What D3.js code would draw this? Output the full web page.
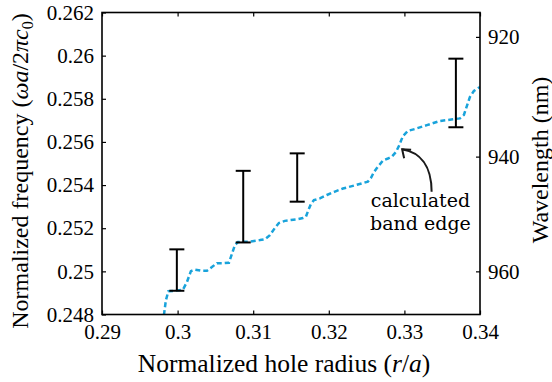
<!DOCTYPE html>
<html>
<head>
<meta charset="utf-8">
<script src="https://cdn.jsdelivr.net/npm/d3@7"></script>
<style>
  body { margin: 0; background: #fff; }
  text { font-family: "Liberation Serif", serif; fill: #000; }
</style>
</head>
<body>
<svg id="chart" width="552" height="382"></svg>
<script>
// calculated band edge (dashed curve)
const radius = [0.29819, 0.29845, 0.29878, 0.29964, 0.30070, 0.30123, 0.30176, 0.30229, 0.30308, 0.30388,
  0.30454, 0.30520, 0.30612, 0.30679, 0.30718, 0.30758, 0.30798, 0.30956, 0.31089, 0.31155,
  0.31221, 0.31287, 0.31340, 0.31419, 0.31499, 0.31578, 0.31657, 0.31697, 0.31730, 0.31763,
  0.31803, 0.31882, 0.31975, 0.32081, 0.32187, 0.32306, 0.32438, 0.32517, 0.32557, 0.32597,
  0.32636, 0.32716, 0.32782, 0.32835, 0.32888, 0.32927, 0.32980, 0.33046, 0.33139, 0.33298,
  0.33470, 0.33642, 0.33734, 0.33787, 0.33827, 0.33866, 0.33919, 0.34];
const freq = [0.24797, 0.24866, 0.24908, 0.24910, 0.24915, 0.24950, 0.25001, 0.25008, 0.25003, 0.25003,
  0.25020, 0.25038, 0.25038, 0.25040, 0.25080, 0.25122, 0.25136, 0.25138, 0.25145, 0.25149,
  0.25168, 0.25201, 0.25224, 0.25234, 0.25238, 0.25241, 0.25247, 0.25253, 0.25284, 0.25312,
  0.25330, 0.25338, 0.25354, 0.25370, 0.25384, 0.25395, 0.25408, 0.25416, 0.25433, 0.25460,
  0.25479, 0.25514, 0.25523, 0.25532, 0.25553, 0.25581, 0.25627, 0.25651, 0.25660, 0.25678,
  0.25697, 0.25705, 0.25709, 0.25725, 0.25767, 0.25808, 0.25836, 0.25855];

// measured band edges (error bars)
const barRadius = [0.2999, 0.30868, 0.31582, 0.33681];
const barLow = [0.24910, 0.25134, 0.25323, 0.25668];
const barHigh = [0.25102, 0.25466, 0.25547, 0.25986];

const xTicks = [0.29, 0.30, 0.31, 0.32, 0.33, 0.34];
const yTicks = [0.248, 0.250, 0.252, 0.254, 0.256, 0.258, 0.260, 0.262];
const wavelengthTicks = [920, 940, 960];
const latticeConstant = 240; // nm, wavelength = a / f

const svg = d3.select("#chart");
const plotLeft = 102, plotRight = 480, plotTop = 12.5, plotBottom = 314.5;

const x = d3.scaleLinear().domain([0.29, 0.34]).range([plotLeft, plotRight]);
const y = d3.scaleLinear().domain([0.248, 0.262]).range([plotBottom, plotTop]);
const fmt = d => String(+d.toFixed(3));

svg.append("defs").append("clipPath").attr("id", "plot")
  .append("rect").attr("x", plotLeft).attr("y", plotTop)
  .attr("width", plotRight - plotLeft).attr("height", plotBottom - plotTop);

// curve
const pts = radius.map((r, i) => [r, freq[i]]);
svg.append("path")
  .datum(pts)
  .attr("clip-path", "url(#plot)")
  .attr("fill", "none")
  .attr("stroke", "#19a3db")
  .attr("stroke-width", 2.5)
  .attr("stroke-dasharray", "5,3")
  .attr("d", d3.line().x(d => x(d[0])).y(d => y(d[1])));

// error bars
const cap = 7.5;
const bars = svg.append("g").attr("stroke", "#000").attr("stroke-width", 2);
barRadius.forEach((r, i) => {
  const cx = x(r);
  bars.append("line").attr("x1", cx).attr("x2", cx).attr("y1", y(barLow[i])).attr("y2", y(barHigh[i]));
  bars.append("line").attr("x1", cx - cap).attr("x2", cx + cap).attr("y1", y(barLow[i])).attr("y2", y(barLow[i]));
  bars.append("line").attr("x1", cx - cap).attr("x2", cx + cap).attr("y1", y(barHigh[i])).attr("y2", y(barHigh[i]));
});

// axes (ticks point inward)
function styleAxis(g) {
  g.select(".domain").remove();
  g.selectAll(".tick line").attr("stroke", "#000").attr("stroke-width", 1.2);
  g.selectAll(".tick text").style("font-family", "Liberation Serif").style("font-size", "21px").attr("fill", "#000");
}
svg.append("g").attr("transform", `translate(0,${plotBottom})`)
  .call(d3.axisBottom(x).tickValues(xTicks).tickFormat(fmt).tickSizeInner(-4).tickSizeOuter(0).tickPadding(10))
  .call(styleAxis);
svg.append("g").attr("transform", `translate(0,${plotTop})`)
  .call(d3.axisTop(x).tickValues(xTicks).tickFormat("").tickSizeInner(-4).tickSizeOuter(0))
  .call(styleAxis);
svg.append("g").attr("transform", `translate(${plotLeft},0)`)
  .call(d3.axisLeft(y).tickValues(yTicks).tickFormat(fmt).tickSizeInner(-4).tickSizeOuter(0).tickPadding(8))
  .call(styleAxis);
svg.append("g").attr("transform", `translate(${plotRight},0)`)
  .call(d3.axisRight(y).tickValues(wavelengthTicks.map(w => latticeConstant / w))
    .tickFormat((d, i) => wavelengthTicks[i]).tickSizeInner(-4).tickSizeOuter(0).tickPadding(8))
  .call(styleAxis);

svg.append("rect")
  .attr("x", plotLeft).attr("y", plotTop)
  .attr("width", plotRight - plotLeft).attr("height", plotBottom - plotTop)
  .attr("fill", "none").attr("stroke", "#000").attr("stroke-width", 1.6);

// axis titles
svg.append("text")
  .attr("x", 284).attr("y", 372)
  .attr("text-anchor", "middle")
  .style("font-size", "25.5px")
  .html('Normalized hole radius (<tspan font-style="italic">r</tspan>/<tspan font-style="italic">a</tspan>)');

svg.append("text")
  .attr("transform", "translate(28,171) rotate(-90)")
  .attr("text-anchor", "middle")
  .style("font-size", "24px")
  .html('Normalized frequency (<tspan font-style="italic">ωa</tspan>/2<tspan font-style="italic">πc</tspan><tspan font-size="16px" dy="5">0</tspan><tspan dy="-5">)</tspan>');

svg.append("text")
  .attr("transform", "translate(548,160) rotate(-90)")
  .attr("text-anchor", "middle")
  .style("font-size", "24px")
  .text("Wavelength (nm)");

// annotation
const tip = [x(0.3297), y(0.25566)];
const tail = [x(0.3336), y(0.25369)];
const ann = svg.append("g").attr("stroke", "#1a1a1a").attr("stroke-width", 2).attr("fill", "none");
ann.append("path")
  .attr("d", `M${tail[0]},${tail[1]} C${tail[0]},${tail[1] - 26} ${tip[0] + 18},${tip[1] + 3} ${tip[0]},${tip[1]}`);
ann.append("path")
  .attr("d", `M${tip[0] + 9},${tip[1] + 0.5} L${tip[0]},${tip[1]} L${tip[0] + 2},${tip[1] + 9}`);

const label = svg.append("text")
  .attr("x", x(0.33212)).attr("y", y(0.25297))
  .attr("text-anchor", "middle")
  .style("font-family", "DejaVu Serif")
  .style("font-size", "19px")
  .attr("fill", "#222");
label.append("tspan").attr("x", x(0.33212)).text("calculated");
label.append("tspan").attr("x", x(0.33212)).attr("dy", 23).text("band edge");
</script>
</body>
</html>
